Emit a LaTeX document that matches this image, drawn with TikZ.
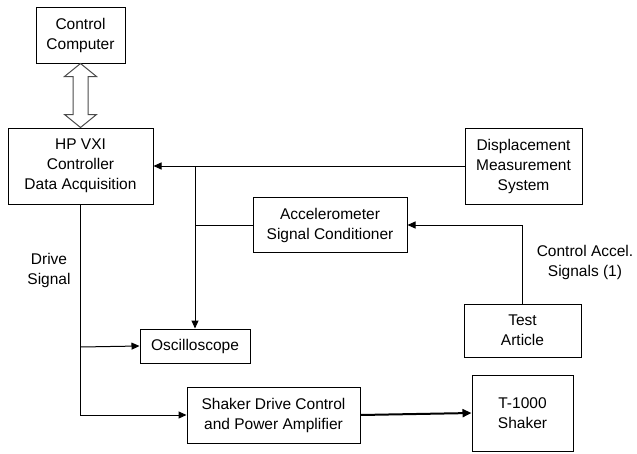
\documentclass[tikz,border=0pt]{standalone}
\usepackage{fontspec}
\setmainfont{Liberation Sans}
\usetikzlibrary{arrows.meta,calc}
\begin{document}
\begin{tikzpicture}[x=1pt,y=-1pt,
  box/.style={draw=black,line width=1pt,fill=white,inner sep=0pt,align=center,font=\fontsize{15.5}{20}\selectfont},
  lbl/.style={inner sep=0pt,align=center,font=\fontsize{15.5}{20}\selectfont},
  conn/.style={draw=black,line width=1pt},
  arr/.style={conn,-{Triangle[length=8pt,width=7pt]}},
  thickarr/.style={draw=black,line width=2pt,-{Triangle[length=9pt,width=8pt]}},
  dblarr/.style={draw=black!70,line width=1pt,fill=white,line join=miter}]
\fill[white] (0,0) rectangle (637,453);
\useasboundingbox (0,0) rectangle (637,453);

\node[box,minimum width=89pt,minimum height=56pt] (cc) at (80.5,35) {Control\\Computer};
\node[box,minimum width=145pt,minimum height=76pt] (hp) at (80.5,166) {HP VXI\\Controller\\Data Acquisition};
\node[box,minimum width=117pt,minimum height=76pt] (dms) at (523.5,166) {Displacement\\Measurement\\System};
\node[box,minimum width=154pt,minimum height=55pt] (acc) at (330,225) {Accelerometer\\Signal Conditioner};
\node[box,minimum width=110pt,minimum height=34pt] (osc) at (195,346) {Oscilloscope};
\node[box,minimum width=117pt,minimum height=53pt] (ta) at (522.5,330.5) {Test\\Article};
\node[box,minimum width=173pt,minimum height=56pt] (sd) at (273.5,415) {Shaker Drive Control\\and Power Amplifier};
\node[box,minimum width=101pt,minimum height=76pt] (tk) at (522.5,413) {T-1000\\Shaker};

\node[lbl] (drive) at (49,270) {Drive\\Signal};
\node[lbl] (cas) at (585,262) {Control Accel.\\Signals (1)};

% hollow double arrow between control computer and HP VXI
\draw[dblarr] (cc.south)
  -- ++(16,13) -- ++(-8.5,0) |- ($(hp.north)+(7.5,-13)$) -- ++(8.5,0)
  -- (hp.north) -- ++(-16,-13) -- ++(8.5,0) |- ($(cc.south)+(-7.5,13)$)
  -- ++(-8.5,0) -- cycle;

\coordinate (j1) at (195,166);
\coordinate (jd) at (80.5,347);

\draw[arr] (dms.west) -- (hp.east);
\draw[arr] (j1) -- (osc.north);
\draw[conn] (acc.west) -- (acc.west -| j1);
\draw[arr] (ta.north) |- (acc.east);
\draw[arr] (hp.south) |- (sd.west);
\draw[arr] (jd) -- (osc.west);
\draw[thickarr] (sd.east) -- (tk.west);
\end{tikzpicture}
\end{document}
